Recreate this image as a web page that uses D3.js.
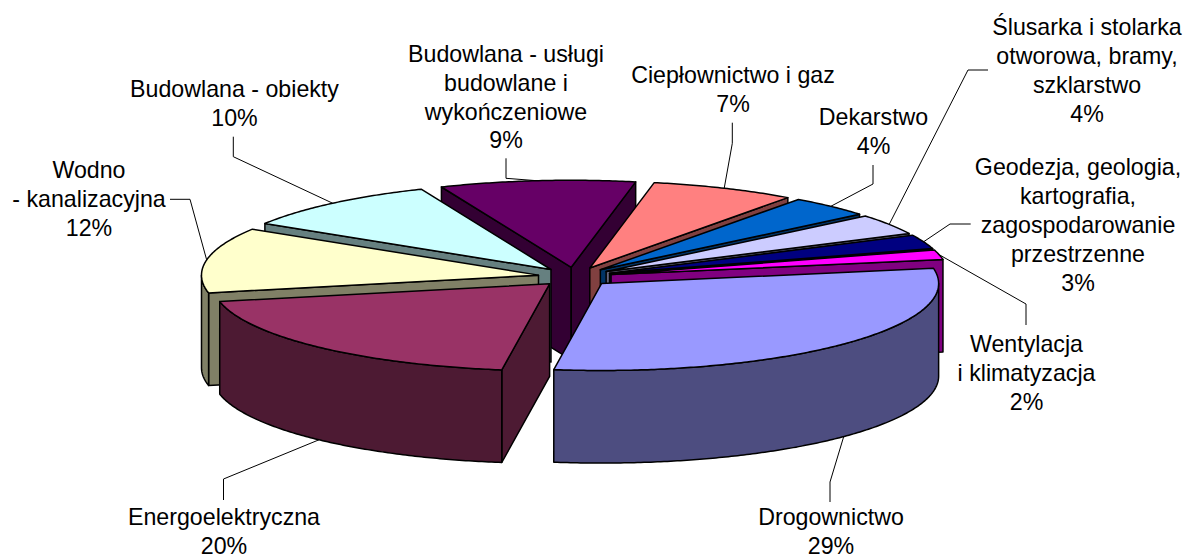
<!DOCTYPE html>
<html>
<head>
<meta charset="utf-8">
<script src="https://cdnjs.cloudflare.com/ajax/libs/d3/7.8.5/d3.min.js"></script>
<style>
html, body { margin: 0; padding: 0; background: #fff; }
svg { display: block; }
</style>
</head>
<body>
<script>
// slice order runs clockwise from the first slice, shares
const names = ["Drogownictwo", "Energoelektryczna", "Wodno - kanalizacyjna", "Budowlana - obiekty",
    "Budowlana - usługi", "Ciepłownictwo i gaz", "Dekarstwo", "Ślusarka", "Geodezja", "Wentylacja i klimatyzacja"];
const shares = [30.06, 19.47, 12.14, 9.85, 9.36, 6.94, 3.97, 3.81, 2.64, 1.81];
const percents = ["29%", "20%", "12%", "10%", "9%", "7%", "4%", "4%", "3%", "2%"];
const colors = ["#9999FF", "#993366", "#FFFFCC", "#CCFFFF", "#660066",
    "#FF8080", "#0066CC", "#CCCCFF", "#000080", "#FF00FF"];
const labelLines = [
    ["Drogownictwo"],
    ["Energoelektryczna"],
    ["Wodno", "- kanalizacyjna"],
    ["Budowlana - obiekty"],
    ["Budowlana - usługi", "budowlane i", "wykończeniowe"],
    ["Ciepłownictwo i gaz"],
    ["Dekarstwo"],
    ["Ślusarka i stolarka", "otworowa, bramy,", "szklarstwo"],
    ["Geodezja, geologia,", "kartografia,", "zagospodarowanie", "przestrzenne"],
    ["Wentylacja", "i klimatyzacja"]
];

const width = 1186;
const height = 559;
const cx = 575, cy = 276.8, rx = 337, ry = 87;
const depth = 92.6;
const explode = 0.11;
const lineHeight = 28.9;
const fontSize = 23.2;

// label anchor (centre x, first baseline) and leader elbows, same order as names
const labelPos = [
    [831, 525.3], [224, 525.3], [89, 178.3], [234.5, 96.7], [506, 61.7],
    [733, 82.7], [873.5, 125], [1087, 35], [1078, 175], [1026.5, 352]
];
const leaderElbows = [
    [[830, 502], [830, 482]],
    [[223.5, 500], [223.5, 479]],
    [[170, 199.3], [190, 199.3]],
    [[233.3, 136.7], [233.3, 156.7]],
    [[506, 158.3], [506, 178.3]],
    [[732.3, 122.7], [732.3, 143.3]],
    [[873, 165], [873, 184]],
    [[988, 70], [968, 70]],
    [[970.7, 224], [950, 224]],
    [[1026, 325], [1026, 304]]
];

const x = d3.scaleLinear().domain([-1, 1]).range([cx - rx, cx + rx]);
const y = d3.scaleLinear().domain([-1, 1]).range([cy - ry, cy + ry]);

const pie = d3.pie().sort(null).value(d => d)
    .startAngle(80 * Math.PI / 180)
    .endAngle(440 * Math.PI / 180);

const slices = pie(shares).map((d, i) => {
    const mid = (d.startAngle + d.endAngle) / 2;
    return {
        i,
        start: d.startAngle,
        end: d.endAngle,
        mid,
        ox: explode * Math.sin(mid),
        oy: -explode * Math.cos(mid)
    };
});

const apex = s => [x(s.ox), y(s.oy)];
const rim = (s, a) => [x(s.ox + Math.sin(a)), y(s.oy - Math.cos(a))];
const down = p => [p[0], p[1] + depth];

function arcPoints(s, a0, a1) {
    const n = Math.max(2, Math.ceil(Math.abs(a1 - a0) / 0.01));
    return d3.range(n + 1).map(k => rim(s, a0 + (a1 - a0) * k / n));
}

const line = d3.line();
const closed = pts => line(pts) + "Z";

const svg = d3.select("body").append("svg")
    .attr("width", width)
    .attr("height", height)
    .attr("viewBox", [0, 0, width, height])
    .attr("font-family", "'Liberation Sans', Arial, sans-serif")
    .attr("font-size", fontSize);

// leader lines go under the pie
svg.append("g").selectAll("path")
    .data(slices)
    .join("path")
    .attr("fill", "none")
    .attr("stroke", "#000")
    .attr("stroke-width", 1)
    .attr("d", s => {
        const a = rim(s, s.mid);
        const end = Math.cos(s.mid) < 0 ? down(a) : a;
        return line([...leaderElbows[s.i], end]);
    });

// paint back to front
const paintOrder = [4, 5, 6, 7, 8, 9, 3, 2, 1, 0];
const pieG = svg.append("g")
    .attr("stroke", "#000")
    .attr("stroke-width", 1.5)
    .attr("stroke-linejoin", "round");

paintOrder.forEach(i => {
    const s = slices[i];
    const top = d3.color(colors[i]);
    const wall = d3.rgb(top.r / 2, top.g / 2, top.b / 2).formatHex();
    const g = pieG.append("g");
    const p0 = apex(s);

    // radial sides, only those facing the viewer
    if (Math.sin(s.start) < 0) {
        const q = rim(s, s.start);
        g.append("path").attr("fill", wall).attr("d", closed([p0, q, down(q), down(p0)]));
    }
    if (Math.sin(s.end) > 0) {
        const q = rim(s, s.end);
        g.append("path").attr("fill", wall).attr("d", closed([p0, q, down(q), down(p0)]));
    }

    // curved outer wall on the front half
    const a0 = Math.max(s.start, Math.PI / 2);
    const a1 = Math.min(s.end, 1.5 * Math.PI);
    if (a1 > a0) {
        const upper = arcPoints(s, a0, a1);
        g.append("path").attr("fill", wall).attr("d", closed([...upper, ...upper.slice().reverse().map(down)]));
    }

    // top face
    g.append("path").attr("fill", top.formatHex()).attr("d", closed([p0, ...arcPoints(s, s.start, s.end)]));
});

// labels
const labels = svg.append("g").attr("text-anchor", "middle").attr("fill", "#000");
slices.forEach(s => {
    const rows = [...labelLines[s.i], percents[s.i]];
    const t = labels.append("text");
    rows.forEach((r, k) => {
        t.append("tspan")
            .attr("x", labelPos[s.i][0])
            .attr("y", labelPos[s.i][1] + k * lineHeight)
            .text(r);
    });
});
</script>
</body>
</html>
